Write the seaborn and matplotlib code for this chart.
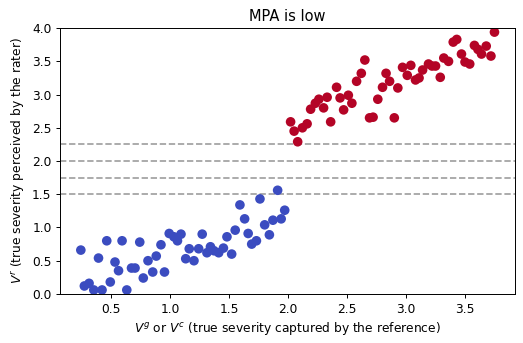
import pandas as pd
import matplotlib
matplotlib.use('Agg')
import matplotlib.pyplot as plt
import seaborn as sns

# --- data ---
blue_x = [0.24, 0.27, 0.31, 0.35, 0.39, 0.42, 0.46, 0.49, 0.53, 0.56,
          0.59, 0.63, 0.67, 0.70, 0.74, 0.77, 0.81, 0.85, 0.88, 0.92,
          0.95, 0.99, 1.03, 1.06, 1.09, 1.13, 1.16, 1.20, 1.24, 1.27,
          1.31, 1.34, 1.37, 1.41, 1.45, 1.48, 1.52, 1.55, 1.59, 1.63,
          1.66, 1.69, 1.73, 1.76, 1.80, 1.84, 1.87, 1.91, 1.94, 1.97]
blue_y = [0.66, 0.12, 0.16, 0.06, 0.54, 0.06, 0.80, 0.18, 0.48, 0.35,
          0.80, 0.06, 0.39, 0.39, 0.78, 0.24, 0.50, 0.33, 0.57, 0.74,
          0.33, 0.91, 0.86, 0.80, 0.90, 0.53, 0.68, 0.50, 0.68, 0.90,
          0.62, 0.71, 0.65, 0.62, 0.69, 0.86, 0.60, 0.96, 1.34, 1.13,
          0.91, 0.75, 0.80, 1.43, 1.04, 0.89, 1.11, 1.56, 1.13, 1.26]
red_x = [2.02, 2.05, 2.08, 2.12, 2.16, 2.19, 2.23, 2.26, 2.30, 2.33,
         2.36, 2.41, 2.44, 2.47, 2.51, 2.54, 2.58, 2.62, 2.65, 2.69,
         2.72, 2.76, 2.80, 2.83, 2.86, 2.90, 2.93, 2.97, 3.01, 3.04,
         3.08, 3.11, 3.14, 3.19, 3.22, 3.25, 3.29, 3.32, 3.36, 3.40,
         3.43, 3.47, 3.50, 3.54, 3.58, 3.61, 3.64, 3.68, 3.72, 3.75]
red_y = [2.59, 2.45, 2.29, 2.50, 2.56, 2.78, 2.87, 2.93, 2.80, 2.96,
         2.59, 3.11, 2.95, 2.77, 2.99, 2.87, 3.20, 3.32, 3.52, 2.65,
         2.66, 2.93, 3.11, 3.32, 3.20, 2.65, 3.10, 3.41, 3.29, 3.44,
         3.22, 3.25, 3.37, 3.46, 3.43, 3.43, 3.26, 3.55, 3.50, 3.79,
         3.83, 3.61, 3.49, 3.46, 3.74, 3.68, 3.61, 3.73, 3.58, 3.94]
thresholds = [1.5, 1.75, 2.0, 2.25]

df = pd.DataFrame({
    'x': blue_x + red_x,
    'y': blue_y + red_y,
    'group': ['low'] * len(blue_x) + ['high'] * len(red_x),
})

fig, ax = plt.subplots(figsize=(523 / 88, 343 / 88), dpi=88)
sns.scatterplot(data=df, x='x', y='y', hue='group',
                palette={'low': '#3b4cc0', 'high': '#b40426'},
                s=62, linewidth=0, legend=False, ax=ax)

for t in thresholds:
    ax.axhline(t, color='#a0a0a0', linestyle='--', linewidth=1.4, zorder=0)

ax.set_ylim(0, 4)
ax.set_title('MPA is low')
ax.set_xlabel('$V^g$ or $V^c$ (true severity captured by the reference)')
ax.set_ylabel('$V^r$ (true severity perceived by the rater)')

fig.subplots_adjust(left=0.115, right=0.985, top=0.918, bottom=0.143)
fig.savefig('out.png')
